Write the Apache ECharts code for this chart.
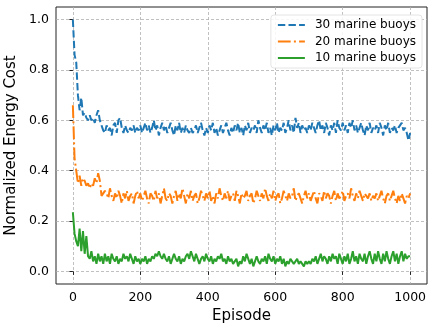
<!DOCTYPE html>
<html lang="en">

<head>
    <meta charset="utf-8">
    <title>Normalized Energy Cost</title>
    <script src="https://cdn.jsdelivr.net/npm/echarts@6/dist/echarts.min.js"></script>
    <style>
        html, body { margin: 0; padding: 0; background: #fff; }
    </style>
</head>

<body>
    <div id="chart" style="width: 436px; height: 332px;"></div>

    <script type="text/javascript">
        // values read every 5 episodes
        var buoys30 = [
            1.00, 0.86, 0.83, 0.70, 0.64, 0.69, 0.62, 0.63, 0.61, 0.60, 0.62, 0.60, 0.61, 0.59, 0.62, 0.64, 0.60, 0.58, 0.56, 0.55,
            0.58, 0.56, 0.57, 0.54, 0.58, 0.59, 0.55, 0.60, 0.61, 0.57, 0.55, 0.58, 0.56, 0.55, 0.57, 0.56, 0.58, 0.55, 0.57, 0.56,
            0.58, 0.55, 0.57, 0.59, 0.56, 0.58, 0.55, 0.57, 0.60, 0.56, 0.58, 0.54, 0.57, 0.59, 0.56, 0.58, 0.55, 0.57, 0.59, 0.56,
            0.54, 0.58, 0.56, 0.59, 0.55, 0.57, 0.55, 0.58, 0.56, 0.55, 0.57, 0.55, 0.56, 0.58, 0.55, 0.57, 0.59, 0.56, 0.54, 0.57,
            0.55, 0.58, 0.56, 0.59, 0.55, 0.57, 0.54, 0.56, 0.58, 0.55, 0.57, 0.59, 0.56, 0.54, 0.57, 0.55, 0.58, 0.56, 0.59, 0.55,
            0.57, 0.54, 0.58, 0.56, 0.59, 0.55, 0.57, 0.56, 0.58, 0.55, 0.60, 0.57, 0.55, 0.58, 0.56, 0.59, 0.55, 0.57, 0.54, 0.58,
            0.56, 0.59, 0.55, 0.57, 0.56, 0.59, 0.55, 0.57, 0.60, 0.56, 0.58, 0.55, 0.61, 0.57, 0.59, 0.55, 0.58, 0.56, 0.57, 0.55,
            0.58, 0.56, 0.59, 0.57, 0.55, 0.58, 0.60, 0.56, 0.58, 0.55, 0.59, 0.57, 0.54, 0.58, 0.56, 0.59, 0.55, 0.60, 0.57, 0.56,
            0.59, 0.56, 0.58, 0.55, 0.59, 0.57, 0.60, 0.56, 0.58, 0.55, 0.57, 0.59, 0.56, 0.54, 0.58, 0.56, 0.59, 0.55, 0.57, 0.56,
            0.58, 0.55, 0.59, 0.57, 0.54, 0.58, 0.56, 0.59, 0.55, 0.57, 0.56, 0.58, 0.55, 0.57, 0.58, 0.59, 0.56, 0.57, 0.55, 0.52,
            0.55
        ];
        var buoys20 = [
            0.66, 0.45, 0.40, 0.35, 0.38, 0.34, 0.37, 0.36, 0.34, 0.35, 0.33, 0.35, 0.34, 0.37, 0.35, 0.39, 0.36, 0.30, 0.31, 0.32,
            0.31, 0.29, 0.33, 0.30, 0.28, 0.31, 0.29, 0.32, 0.30, 0.27, 0.31, 0.29, 0.32, 0.28, 0.30, 0.31, 0.27, 0.30, 0.32, 0.29,
            0.31, 0.28, 0.30, 0.32, 0.29, 0.27, 0.31, 0.30, 0.28, 0.32, 0.29, 0.31, 0.27, 0.30, 0.33, 0.29, 0.28, 0.31, 0.30, 0.27,
            0.30, 0.32, 0.28, 0.31, 0.29, 0.33, 0.30, 0.27, 0.31, 0.29, 0.32, 0.28, 0.30, 0.31, 0.27, 0.29, 0.32, 0.30, 0.28, 0.31,
            0.29, 0.32, 0.28, 0.30, 0.27, 0.31, 0.29, 0.33, 0.30, 0.28, 0.31, 0.29, 0.32, 0.28, 0.30, 0.31, 0.28, 0.32, 0.30, 0.27,
            0.31, 0.29, 0.30, 0.32, 0.28, 0.30, 0.31, 0.27, 0.29, 0.32, 0.30, 0.28, 0.31, 0.29, 0.33, 0.30, 0.28, 0.31, 0.29, 0.32,
            0.28, 0.30, 0.31, 0.27, 0.29, 0.32, 0.30, 0.28, 0.31, 0.29, 0.30, 0.33, 0.28, 0.30, 0.31, 0.29, 0.27, 0.30, 0.32, 0.29,
            0.31, 0.28, 0.30, 0.32, 0.29, 0.27, 0.31, 0.30, 0.28, 0.32, 0.29, 0.31, 0.30, 0.27, 0.30, 0.32, 0.28, 0.31, 0.29, 0.30,
            0.32, 0.28, 0.30, 0.31, 0.29, 0.33, 0.30, 0.28, 0.31, 0.29, 0.32, 0.30, 0.28, 0.31, 0.30, 0.29, 0.31, 0.28, 0.30, 0.29,
            0.31, 0.28, 0.30, 0.32, 0.29, 0.27, 0.30, 0.31, 0.28, 0.30, 0.32, 0.29, 0.27, 0.30, 0.28, 0.31, 0.29, 0.27, 0.30, 0.29,
            0.31
        ];
        var buoys10 = [
            0.235, 0.15, 0.12, 0.10, 0.17, 0.08, 0.16, 0.07, 0.14, 0.06, 0.05, 0.08, 0.04, 0.06, 0.03, 0.07, 0.04, 0.06, 0.03, 0.07,
            0.04, 0.06, 0.03, 0.07, 0.05, 0.04, 0.06, 0.03, 0.05, 0.04, 0.07, 0.05, 0.06, 0.04, 0.07, 0.05, 0.03, 0.06, 0.04, 0.05,
            0.03, 0.05, 0.04, 0.06, 0.03, 0.05, 0.04, 0.06, 0.05, 0.07, 0.06, 0.08, 0.06, 0.05, 0.07, 0.05, 0.04, 0.06, 0.03, 0.05,
            0.07, 0.05, 0.04, 0.06, 0.03, 0.05, 0.04, 0.06, 0.07, 0.05, 0.08, 0.06, 0.04, 0.07, 0.05, 0.03, 0.05, 0.06, 0.04, 0.07,
            0.05, 0.04, 0.06, 0.03, 0.05, 0.04, 0.06, 0.05, 0.07, 0.04, 0.05, 0.03, 0.06, 0.04, 0.05, 0.03, 0.04, 0.05, 0.02, 0.04,
            0.03, 0.06, 0.04, 0.07, 0.05, 0.03, 0.05, 0.02, 0.04, 0.06, 0.04, 0.03, 0.05, 0.04, 0.06, 0.03, 0.07, 0.05, 0.04, 0.06,
            0.03, 0.05, 0.04, 0.06, 0.03, 0.05, 0.02, 0.04, 0.03, 0.05, 0.04, 0.03, 0.04, 0.05, 0.03, 0.04, 0.03, 0.02, 0.04, 0.03,
            0.04, 0.03, 0.05, 0.04, 0.06, 0.03, 0.05, 0.07, 0.04, 0.06, 0.05, 0.03, 0.06, 0.04, 0.07, 0.05, 0.06, 0.03, 0.07, 0.05,
            0.03, 0.06, 0.04, 0.07, 0.03, 0.05, 0.08, 0.04, 0.06, 0.03, 0.07, 0.05, 0.04, 0.07, 0.03, 0.06, 0.08, 0.05, 0.03, 0.07,
            0.04, 0.08, 0.05, 0.03, 0.07, 0.04, 0.08, 0.05, 0.03, 0.06, 0.08, 0.04, 0.07, 0.03, 0.06, 0.08, 0.04, 0.07, 0.05, 0.06,
            0.06
        ];
        var episodes = buoys30.map(function (v, i) { return i * 5; });
        var xTicks = [0, 200, 400, 600, 800, 1000];
        var yTicks = [0.0, 0.2, 0.4, 0.6, 0.8, 1.0];
        var seriesNames = ['30 marine buoys', '20 marine buoys', '10 marine buoys'];

        function pairs(values) {
            return values.map(function (v, i) { return [episodes[i], v]; });
        }

        var font = 'DejaVu Sans';
        var gridLine = { show: true, lineStyle: { color: '#b0b0b0', width: 0.8, type: [3, 2] } };

        var myChart = echarts.init(document.getElementById('chart'), null, { renderer: 'canvas' });
        var option = {
            animation: false,
            textStyle: { fontFamily: font },
            grid: {
                left: 56, right: 9, top: 7, bottom: 48,
                outerBoundsMode: 'none',
                containLabel: false,
                show: true, borderColor: '#222', borderWidth: 1, backgroundColor: 'transparent'
            },
            legend: {
                orient: 'vertical',
                right: 14,
                top: 15,
                padding: [4, 6],
                itemWidth: 27,
                itemHeight: 14,
                itemGap: 4.5,
                itemStyle: { opacity: 0 },
                backgroundColor: 'rgba(255,255,255,0.85)',
                borderColor: '#e4e4e4',
                borderWidth: 1,
                borderRadius: 3,
                textStyle: { fontFamily: font, fontSize: 12, color: '#000', padding: [0, 0, 0, 5] },
                data: seriesNames
            },
            xAxis: {
                type: 'value',
                min: -50,
                max: 1050,
                name: 'Episode',
                nameLocation: 'middle',
                nameGap: 24,
                nameTextStyle: { fontFamily: font, fontSize: 15, color: '#000' },
                axisLine: { show: false },
                axisTick: { show: true, length: 3.5, customValues: xTicks, lineStyle: { color: '#222' } },
                axisLabel: {
                    customValues: xTicks, fontFamily: font, fontSize: 12.5, color: '#000', margin: 7,
                    formatter: function (v) { return String(v); }
                },
                splitLine: gridLine
            },
            yAxis: {
                type: 'value',
                min: -0.05,
                max: 1.05,
                name: 'Normalized Energy Cost',
                nameLocation: 'middle',
                nameGap: 33,
                nameTextStyle: { fontFamily: font, fontSize: 15, color: '#000' },
                axisLine: { show: false },
                axisTick: { show: true, length: 3.5, customValues: yTicks, lineStyle: { color: '#222' } },
                axisLabel: {
                    customValues: yTicks, fontFamily: font, fontSize: 12.5, color: '#000', margin: 7,
                    formatter: function (v) { return v.toFixed(1); }
                },
                splitLine: gridLine
            },
            series: [
                {
                    name: seriesNames[0], type: 'line', symbol: 'none', data: pairs(buoys30),
                    itemStyle: { color: '#1f77b4' },
                    lineStyle: { color: '#1f77b4', width: 2, type: [7.4, 3.2] }
                },
                {
                    name: seriesNames[1], type: 'line', symbol: 'none', data: pairs(buoys20),
                    itemStyle: { color: '#ff7f0e' },
                    lineStyle: { color: '#ff7f0e', width: 2, type: [12.8, 3.2, 2, 3.2] }
                },
                {
                    name: seriesNames[2], type: 'line', symbol: 'none', data: pairs(buoys10),
                    itemStyle: { color: '#2ca02c' },
                    lineStyle: { color: '#2ca02c', width: 2, type: 'solid' }
                }
            ]
        };
        myChart.setOption(option);
    </script>
</body>

</html>
